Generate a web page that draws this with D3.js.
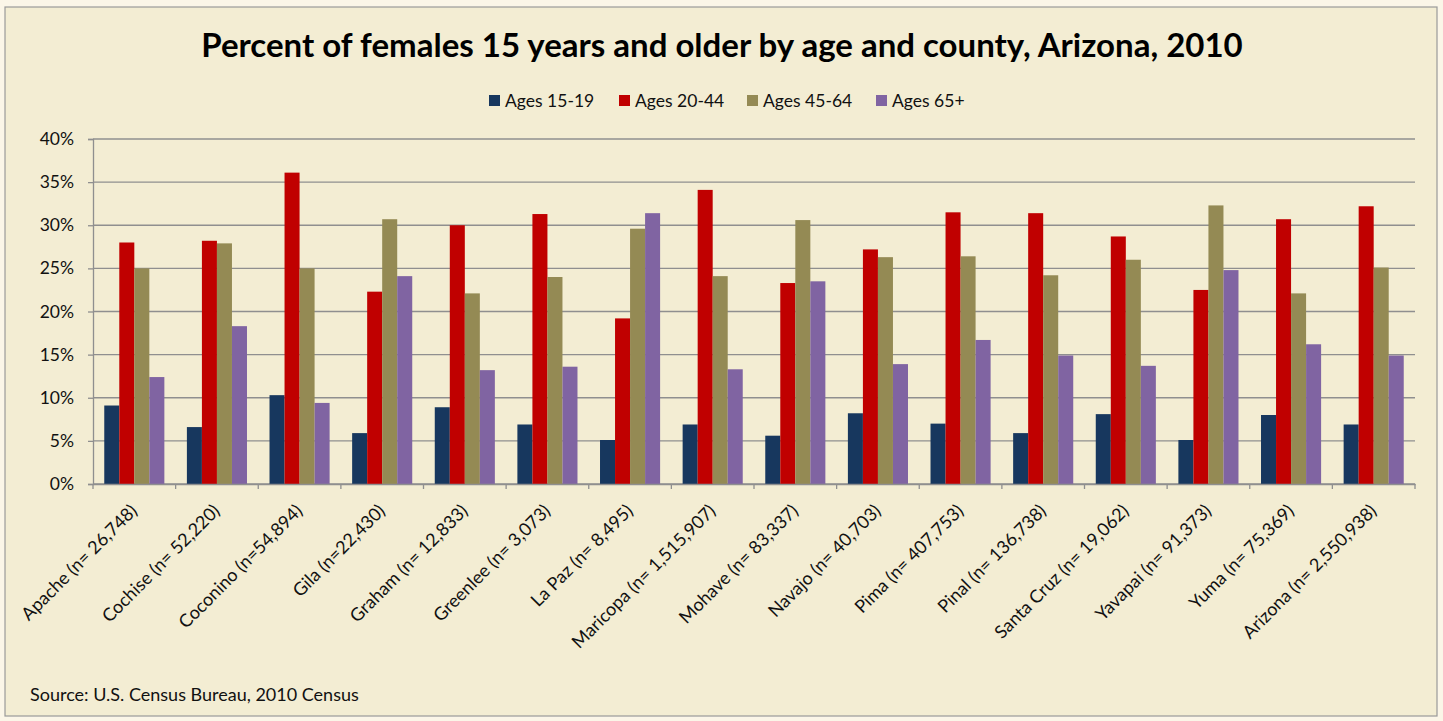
<!DOCTYPE html>
<html><head><meta charset="utf-8">
<script src="https://cdn.jsdelivr.net/npm/d3@7"></script>
<style>
html,body{margin:0;padding:0;background:#fbf6e8;}
svg{display:block;font-family:Lato,"Open Sans",sans-serif;}
</style></head>
<body>
<svg id="chart" width="1443" height="721"></svg>
<script>
const counties = ["Apache (n= 26,748)","Cochise (n= 52,220)","Coconino (n=54,894)","Gila (n=22,430)","Graham (n= 12,833)","Greenlee (n= 3,073)","La Paz (n= 8,495)","Maricopa (n= 1,515,907)","Mohave (n= 83,337)","Navajo (n= 40,703)","Pima (n= 407,753)","Pinal (n= 136,738)","Santa Cruz (n= 19,062)","Yavapai (n= 91,373)","Yuma (n= 75,369)","Arizona (n= 2,550,938)"];
const seriesNames = ["Ages 15-19","Ages 20-44","Ages 45-64","Ages 65+"];
const ages15_19 = [9.1,6.6,10.3,5.9,8.9,6.9,5.1,6.9,5.6,8.2,7.0,5.9,8.1,5.1,8.0,6.9];
const ages20_44 = [28.0,28.2,36.1,22.3,30.0,31.3,19.2,34.1,23.3,27.2,31.5,31.4,28.7,22.5,30.7,32.2];
const ages45_64 = [25.0,27.9,25.0,30.7,22.1,24.0,29.6,24.1,30.6,26.3,26.4,24.2,26.0,32.3,22.1,25.1];
const ages65plus = [12.4,18.3,9.4,24.1,13.2,13.6,31.4,13.3,23.5,13.9,16.7,14.9,13.7,24.8,16.2,14.9];
const yTicks = [0,5,10,15,20,25,30,35,40];
const colors = ["#17375E","#C00000","#948A54","#8064A2"];

(function(){
const allSeries = [ages15_19, ages20_44, ages45_64, ages65plus];
const svg = d3.select("#chart");

svg.append("rect").attr("x",5).attr("y",7).attr("width",1432).attr("height",709)
  .attr("fill","#f3edd3").attr("stroke","#9a9a9a").attr("stroke-width",1.2);

const pLeft=93, pRight=1415, pTop=139, pBottom=484;
const x0 = d3.scaleBand().domain(counties).range([pLeft,pRight]);
const x1 = d3.scaleBand().domain(d3.range(4)).range([0,x0.bandwidth()]).paddingOuter(0.75).paddingInner(0);
const y = d3.scaleLinear().domain([0,40]).range([pBottom,pTop]);

svg.append("g").selectAll("line").data(yTicks).join("line")
  .attr("x1",pLeft).attr("x2",pRight).attr("y1",d=>y(d)).attr("y2",d=>y(d))
  .attr("stroke","#8f8f8f").attr("stroke-width",1.3);

const yAxis = d3.axisLeft(y).tickValues(yTicks).tickFormat(d=>d+"%").tickSize(5).tickPadding(14);
const yg = svg.append("g").attr("transform",`translate(${pLeft},0)`).call(yAxis);
yg.select(".domain").attr("stroke","#8f8f8f").attr("stroke-width",1.3);
yg.selectAll(".tick line").attr("stroke","#8f8f8f").attr("stroke-width",1.3);
yg.selectAll("text").attr("font-size",17.5).attr("fill","#111").style("font-family","Lato,sans-serif");

const groups = svg.append("g").selectAll("g").data(counties).join("g")
  .attr("transform",d=>`translate(${x0(d)},0)`);
groups.selectAll("rect").data((d,i)=>allSeries.map((s,k)=>({k,v:s[i]}))).join("rect")
  .attr("x",d=>x1(d.k)).attr("width",x1.bandwidth())
  .attr("y",d=>y(d.v)).attr("height",d=>pBottom-y(d.v))
  .attr("fill",d=>colors[d.k]);

const xAxis = d3.axisBottom(x0).tickSize(0).tickFormat("");
const xg = svg.append("g").attr("transform",`translate(0,${pBottom})`).call(xAxis);
xg.select(".domain").attr("stroke","#8f8f8f").attr("stroke-width",1.3);
const bounds = counties.map(c=>x0(c)).concat([pRight]);
svg.append("g").selectAll("line").data(bounds).join("line")
  .attr("x1",d=>d).attr("x2",d=>d).attr("y1",pBottom).attr("y2",pBottom+5)
  .attr("stroke","#8f8f8f").attr("stroke-width",1.3);

svg.append("g").selectAll("text").data(counties).join("text")
  .attr("transform",d=>`translate(${x0(d)+x0.bandwidth()/2+4},${pBottom+28}) rotate(-45)`)
  .attr("text-anchor","end").attr("font-size",18).attr("fill","#111")
  .text(d=>d);

svg.append("text").attr("x",722).attr("y",57).attr("text-anchor","middle")
  .attr("font-size",33).attr("font-weight","bold").attr("fill","#000")
  .text("Percent of females 15 years and older by age and county, Arizona, 2010");

const legX = [489,619,747,876];
const lg = svg.append("g").selectAll("g").data(seriesNames).join("g")
  .attr("transform",(d,i)=>`translate(${legX[i]},95)`);
lg.append("rect").attr("width",11).attr("height",11).attr("fill",(d,i)=>colors[i]);
lg.append("text").attr("x",16).attr("y",11.5).attr("font-size",17.5).attr("fill","#111").text(d=>d);

svg.append("text").attr("x",30).attr("y",701).attr("font-size",18).attr("fill","#111")
  .text("Source: U.S. Census Bureau, 2010 Census");
})();
</script>
</body></html>
